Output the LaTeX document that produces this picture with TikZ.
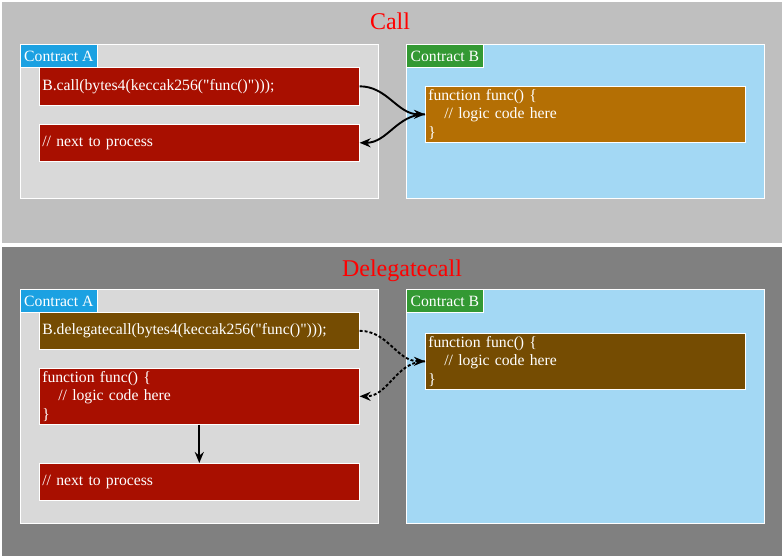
\documentclass[tikz,border=0pt]{standalone}
\usepackage{fontspec}
\setmainfont{Liberation Serif}[Ligatures=TeXOff]
\usetikzlibrary{arrows.meta}
\definecolor{callBg}{HTML}{BFBFBF}
\definecolor{dlgBg}{HTML}{808080}
\definecolor{contractA}{HTML}{D9D9D9}
\definecolor{contractB}{HTML}{A3D8F4}
\definecolor{tagA}{HTML}{1BA1E2}
\definecolor{tagB}{HTML}{339933}
\definecolor{codeRed}{HTML}{A80F00}
\definecolor{codeOrange}{HTML}{B46F04}
\definecolor{codeBrown}{HTML}{754C02}
\begin{document}
\begin{tikzpicture}[x=1pt,y=-1pt,
  every node/.style={font=\fontsize{15.7}{18.5}\selectfont,text=white},
  contract/.style={draw=white,line width=0.8pt,anchor=north west,inner sep=0pt,minimum width=358pt,minimum height=154pt},
  tag/.style={draw=white,line width=0.8pt,anchor=north west,inner sep=3pt,minimum width=77pt,minimum height=23pt},
  codebox/.style={draw=white,line width=0.6pt,anchor=north west,inner xsep=3pt,inner ysep=0.5pt,text width=314pt,align=left},
  heading/.style={font=\fontsize{24}{28}\selectfont,text=red},
  flow/.style={line width=1.9pt,-{Stealth[length=11pt,width=9pt]}},
  dflow/.style={flow,dash pattern=on 3pt off 2pt}]
\useasboundingbox (0,0) rectangle (784,558);
\fill[white] (0,0) rectangle (784,558);
\fill[callBg] (2,2) rectangle (782,243);
\fill[dlgBg] (2,247) rectangle (782,556);

\node[heading] (callTitle) at (390,21) {Call};
\node[contract,fill=contractA] (callA) at (20,44) {};
\node[tag,fill=tagA] (callTagA) at (callA.north west) {Contract A};
\node[contract,fill=contractB] (callB) at (406,44) {};
\node[tag,fill=tagB] (callTagB) at (callB.north west) {Contract B};
\node[codebox,fill=codeRed,minimum height=38pt] (callStmt) at (39,67) {B.call(bytes4(keccak256("func()")));};
\node[codebox,fill=codeRed,minimum height=37pt] (callNext) at (39,124) {// next to process};
\node[codebox,fill=codeOrange,minimum height=56pt] (callFunc) at (425,86) {function func() \{\\\hspace*{16pt}// logic code here\\\}};
\draw[flow] (callStmt.east) to[out=0,in=180] (callFunc.west);
\draw[flow] (callFunc.west) to[out=180,in=0] (callNext.east);

\node[heading] (dlgTitle) at (402,271) {Delegatecall};
\node[contract,fill=contractA,minimum height=234pt] (dlgA) at (20,289) {};
\node[tag,fill=tagA] (dlgTagA) at (dlgA.north west) {Contract A};
\node[contract,fill=contractB,minimum height=234pt] (dlgB) at (406,289) {};
\node[tag,fill=tagB] (dlgTagB) at (dlgB.north west) {Contract B};
\node[codebox,fill=codeBrown,minimum height=37pt] (dlgStmt) at (39,312) {B.delegatecall(bytes4(keccak256("func()")));};
\node[codebox,fill=codeRed,minimum height=56pt] (dlgLocal) at (39,368) {function func() \{\\\hspace*{16pt}// logic code here\\\}};
\node[codebox,fill=codeRed,minimum height=37pt] (dlgNext) at (39,463) {// next to process};
\node[codebox,fill=codeBrown,minimum height=56pt] (dlgFunc) at (425,333) {function func() \{\\\hspace*{16pt}// logic code here\\\}};
\draw[dflow] (dlgStmt.east) to[out=0,in=180] (dlgFunc.west);
\draw[dflow] (dlgFunc.west) to[out=180,in=0] (dlgLocal.east);
\draw[flow] (dlgLocal.south) -- (dlgNext.north);
\end{tikzpicture}
\end{document}
